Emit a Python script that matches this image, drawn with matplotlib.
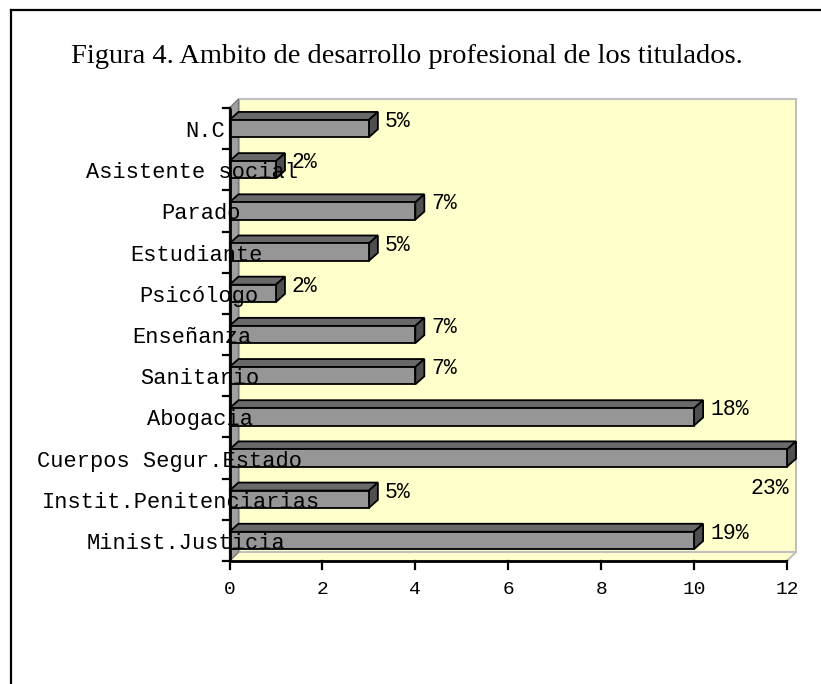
import matplotlib
matplotlib.use("Agg")
import matplotlib.pyplot as plt
from matplotlib.patches import Rectangle, Polygon
from matplotlib.lines import Line2D
from matplotlib.transforms import blended_transform_factory

# datos (de arriba hacia abajo, como en la figura)
categorias = ["N.C", "Asistente social", "Parado", "Estudiante", "Psicólogo",
              "Enseñanza", "Sanitario", "Abogacia", "Cuerpos Segur.Estado",
              "Instit.Penitenciarias", "Minist.Justicia"]
valores = [3, 1, 4, 3, 1, 4, 4, 10, 12, 3, 10]
porcentajes = ["5%", "2%", "7%", "5%", "2%", "7%", "7%", "18%", "23%", "5%", "19%"]
ticks_x = [0, 2, 4, 6, 8, 10, 12]

# borde izquierdo de cada etiqueta (en pixeles de la figura)
etiqueta_x = [185, 86, 161, 130, 139, 132, 140, 147, 37, 42, 87]

W, H = 821, 684
fig = plt.figure(figsize=(W / 100, H / 100), dpi=100)
fig.patch.set_facecolor("white")

# marco de la figura (solo lados visibles)
fig.add_artist(Line2D([11 / W, 11 / W], [0, 1 - 10 / H], color="black", lw=1.6))
fig.add_artist(Line2D([11 / W, 1], [1 - 10 / H, 1 - 10 / H], color="black", lw=1.6))

fig.text(71 / W, 1 - 63 / H,
         "Figura 4. Ambito de desarrollo profesional de los titulados.",
         family="Liberation Serif", fontsize=20.5, ha="left", va="baseline")

ax = fig.add_axes([229.5 / W, (H - 561) / H, (787 - 229.5) / W, (561 - 108) / H])
n = len(categorias)
ax.set_xlim(0, 12)
ax.set_ylim(0, n)
ax.axis("off")

p0 = ax.transData.transform((0, 0))
p1 = ax.transData.transform((1, 1))
sx, sy = p1[0] - p0[0], p1[1] - p0[1]

# profundidad 3D
dxw, dyw = 9 / sx, 9 / sy
dxb, dyb = 9 / sx, 8 / sy
xmax = 12

# pared del fondo, suelo y pared izquierda
ax.add_patch(Rectangle((dxw, dyw), xmax, n, facecolor="#FFFFCC",
                       edgecolor="#C0C0C0", lw=1.5, clip_on=False, zorder=0))
ax.add_patch(Polygon([(0, 0), (xmax, 0), (xmax + dxw, dyw), (dxw, dyw)],
                     facecolor="#FFFFCC", edgecolor="#C0C0C0", lw=1.5,
                     clip_on=False, zorder=0.5))
ax.add_patch(Polygon([(0, 0), (0, n), (dxw, n + dyw), (dxw, dyw)],
                     facecolor="#A0A0A0", edgecolor="#7A7A7A", lw=1,
                     clip_on=False, zorder=0.6))

h = 0.42
tr = blended_transform_factory(fig.transFigure, ax.transData)
for i, (cat, v, pct) in enumerate(zip(categorias, valores, porcentajes)):
    k = n - 1 - i
    yc = k + 0.5
    yb, yt = yc - h / 2, yc + h / 2
    ax.add_patch(Polygon([(0, yt), (v, yt), (v + dxb, yt + dyb), (dxb, yt + dyb)],
                         facecolor="#696969", edgecolor="black", lw=1.3,
                         clip_on=False, zorder=2, joinstyle="miter"))
    ax.add_patch(Polygon([(v, yb), (v, yt), (v + dxb, yt + dyb), (v + dxb, yb + dyb)],
                         facecolor="#4F4F4F", edgecolor="black", lw=1.3,
                         clip_on=False, zorder=2, joinstyle="miter"))
    ax.add_patch(Rectangle((0, yb), v, h, facecolor="#969696", edgecolor="black",
                           lw=1.3, clip_on=False, zorder=3))
    if v >= xmax:
        ax.text(xmax + 2 / sx, yc - 30 / sy, pct, family="Liberation Mono",
                fontsize=15.5, ha="right", va="center", zorder=5)
    else:
        ax.text(v + 16 / sx, yc + 7 / sy, pct, family="Liberation Mono",
                fontsize=15.5, ha="left", va="center", zorder=5)

    ax.text(etiqueta_x[i] / W, yc - 8.5 / sy, cat, transform=tr,
            family="Liberation Mono", fontsize=15.8, ha="left", va="baseline",
            zorder=6)

# ejes
ax.plot([0, 0], [0, n], color="black", lw=2, clip_on=False, zorder=4,
        solid_capstyle="butt")
ax.plot([0, xmax], [0, 0], color="black", lw=2, clip_on=False, zorder=4,
        solid_capstyle="butt")
for k in range(n + 1):
    ax.plot([-7 / sx, 0], [k, k], color="black", lw=1.6, clip_on=False, zorder=4)
for t in ticks_x:
    ax.plot([t, t], [0, -8 / sy], color="black", lw=1.6, clip_on=False, zorder=4)
    ax.text(t, -29 / sy, str(t), family="Liberation Mono", fontsize=14,
            ha="center", va="center")

fig.savefig("out.png", dpi=100)
